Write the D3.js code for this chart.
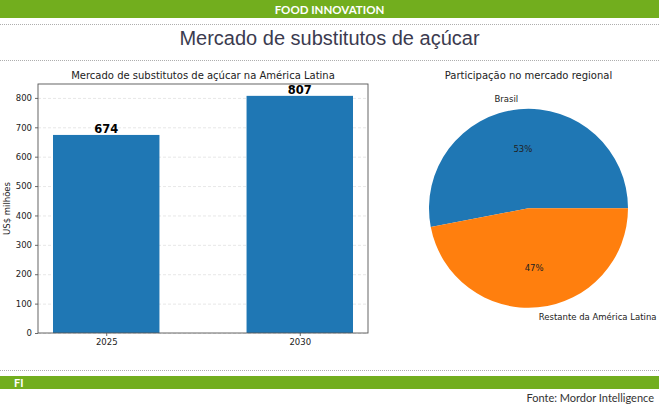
<!DOCTYPE html>
<html>
<head>
<meta charset="utf-8">
<script src="https://cdn.jsdelivr.net/npm/d3@7"></script>
<style>
  body { margin: 0; background: #fff; }
  svg { display: block; }
</style>
</head>
<body>
<svg id="chart" width="659" height="410"></svg>
<script>
// data
var years = ["2025", "2030"];
var marketValues = [674, 807];
var yTicks = [0, 100, 200, 300, 400, 500, 600, 700, 800];
var shareLabels = ["Brasil", "Restante da América Latina"];
var shareValues = [53, 47];
var shareColors = ["#1f77b4", "#ff7f0e"];

var svg = d3.select("#chart");
var green = "#72ae1e";
var mpl = "DejaVu Sans, sans-serif";

// header / footer frame
svg.append("rect").attr("x", 0).attr("y", 0).attr("width", 659).attr("height", 18).attr("fill", green);
svg.append("text").attr("x", 329.5).attr("y", 13.5).attr("text-anchor", "middle")
  .attr("fill", "#fff").attr("font-family", "Lato, sans-serif").attr("font-size", 11.5)
  .attr("font-weight", "bold").text("FOOD INNOVATION");

function dotted(y) {
  svg.append("line").attr("x1", 0).attr("x2", 659).attr("y1", y).attr("y2", y)
    .attr("stroke", "#999").attr("stroke-width", 0.8).attr("stroke-dasharray", "1,1");
}
dotted(24.5);
dotted(60.5);
dotted(370.5);

svg.append("text").attr("x", 329.5).attr("y", 45).attr("text-anchor", "middle")
  .attr("fill", "#3b3b4f").attr("font-family", "Liberation Sans, Arial, sans-serif")
  .attr("font-size", 20).text("Mercado de substitutos de açúcar");

svg.append("rect").attr("x", 0).attr("y", 376).attr("width", 659).attr("height", 13).attr("fill", green);
svg.append("text").attr("x", 14).attr("y", 386.5).attr("fill", "#fff")
  .attr("font-family", "Lato, sans-serif").attr("font-size", 11).attr("font-weight", "bold").text("FI");
svg.append("text").attr("x", 654).attr("y", 402).attr("text-anchor", "end").attr("fill", "#333")
  .attr("font-family", "Lato, sans-serif").attr("font-size", 11).text("Fonte: Mordor Intelligence");

// bar chart
var plot = { left: 38, right: 368, top: 84, bottom: 333 };
var x = d3.scaleLinear().domain([-0.3525, 1.3525]).range([plot.left, plot.right]);
var y = d3.scaleLinear().domain([0, 807 * 1.05]).range([plot.bottom, plot.top]);
var barW = x(0.55) - x(0);

var bar = svg.append("g");

bar.selectAll("line.grid").data(yTicks).enter().append("line")
  .attr("class", "grid")
  .attr("x1", plot.left).attr("x2", plot.right)
  .attr("y1", function(d) { return y(d) + 0.5; }).attr("y2", function(d) { return y(d) + 0.5; })
  .attr("stroke", "#ddd").attr("stroke-width", 0.7).attr("stroke-dasharray", "3,2");

bar.selectAll("rect.bar").data(marketValues).enter().append("rect")
  .attr("class", "bar")
  .attr("x", function(d, i) { return x(i) - barW / 2; })
  .attr("y", function(d) { return y(d); })
  .attr("width", barW)
  .attr("height", function(d) { return y(0) - y(d); })
  .attr("fill", "#1f77b4");

bar.selectAll("text.val").data(marketValues).enter().append("text")
  .attr("class", "val")
  .attr("x", function(d, i) { return x(i); })
  .attr("y", function(d) { return y(d) - 2; })
  .attr("text-anchor", "middle").attr("font-family", mpl).attr("font-size", 11.5)
  .attr("font-weight", "bold").attr("fill", "#000").text(function(d) { return d; });

var yAxis = bar.append("g").attr("transform", "translate(" + plot.left + ",0)")
  .call(d3.axisLeft(y).tickValues(yTicks).tickSize(3).tickPadding(3));
var xAxis = bar.append("g").attr("transform", "translate(0," + plot.bottom + ")")
  .call(d3.axisBottom(x).tickValues([0, 1]).tickFormat(function(d) { return years[d]; })
    .tickSize(3).tickPadding(3));
[yAxis, xAxis].forEach(function(a) {
  a.select(".domain").remove();
  a.selectAll("text").attr("font-family", mpl).attr("font-size", 8.5).attr("fill", "#222");
  a.selectAll("line").attr("stroke", "#444").attr("stroke-width", 0.8);
});

bar.append("rect").attr("x", plot.left).attr("y", plot.top)
  .attr("width", plot.right - plot.left).attr("height", plot.bottom - plot.top)
  .attr("fill", "none").attr("stroke", "#555").attr("stroke-width", 0.9);

bar.append("text").attr("transform", "translate(10," + ((plot.top + plot.bottom) / 2) + ") rotate(-90)")
  .attr("text-anchor", "middle").attr("font-family", mpl).attr("font-size", 8.5).attr("fill", "#222")
  .text("US$ milhões");

bar.append("text").attr("x", (plot.left + plot.right) / 2).attr("y", 79)
  .attr("text-anchor", "middle").attr("font-family", mpl).attr("font-size", 10).attr("fill", "#222")
  .text("Mercado de substitutos de açúcar na América Latina");

// pie chart
var cx = 528.5, cy = 208.3, r = 99.5;
var pieG = svg.append("g").attr("transform", "translate(" + cx + "," + cy + ")");

// matplotlib style: start at east, counterclockwise
var pie = d3.pie().sort(null).value(function(d) { return d; })
  .startAngle(Math.PI / 2).endAngle(Math.PI / 2 - 2 * Math.PI);
var arcs = pie(shareValues);
var arc = d3.arc().innerRadius(0).outerRadius(r);

pieG.selectAll("path").data(arcs).enter().append("path")
  .attr("d", arc).attr("fill", function(d, i) { return shareColors[i]; });

function mid(d) { return (d.startAngle + d.endAngle) / 2; }

pieG.selectAll("text.pct").data(arcs).enter().append("text")
  .attr("class", "pct")
  .attr("x", function(d) { return 0.6 * r * Math.sin(mid(d)); })
  .attr("y", function(d) { return -0.6 * r * Math.cos(mid(d)); })
  .attr("dy", "0.35em").attr("text-anchor", "middle")
  .attr("font-family", mpl).attr("font-size", 8.5).attr("fill", "#222")
  .text(function(d) { return d.value + "%"; });

pieG.selectAll("text.lab").data(arcs).enter().append("text")
  .attr("class", "lab")
  .attr("x", function(d) { return 1.1 * r * Math.sin(mid(d)); })
  .attr("y", function(d) { return -1.1 * r * Math.cos(mid(d)); })
  .attr("dy", "0.35em")
  .attr("text-anchor", function(d) { return Math.sin(mid(d)) < 0 ? "end" : "start"; })
  .attr("font-family", mpl).attr("font-size", 8.5).attr("fill", "#222")
  .text(function(d, i) { return shareLabels[i]; });

svg.append("text").attr("x", cx).attr("y", 79).attr("text-anchor", "middle")
  .attr("font-family", mpl).attr("font-size", 10).attr("fill", "#222")
  .text("Participação no mercado regional");
</script>
</body>
</html>
